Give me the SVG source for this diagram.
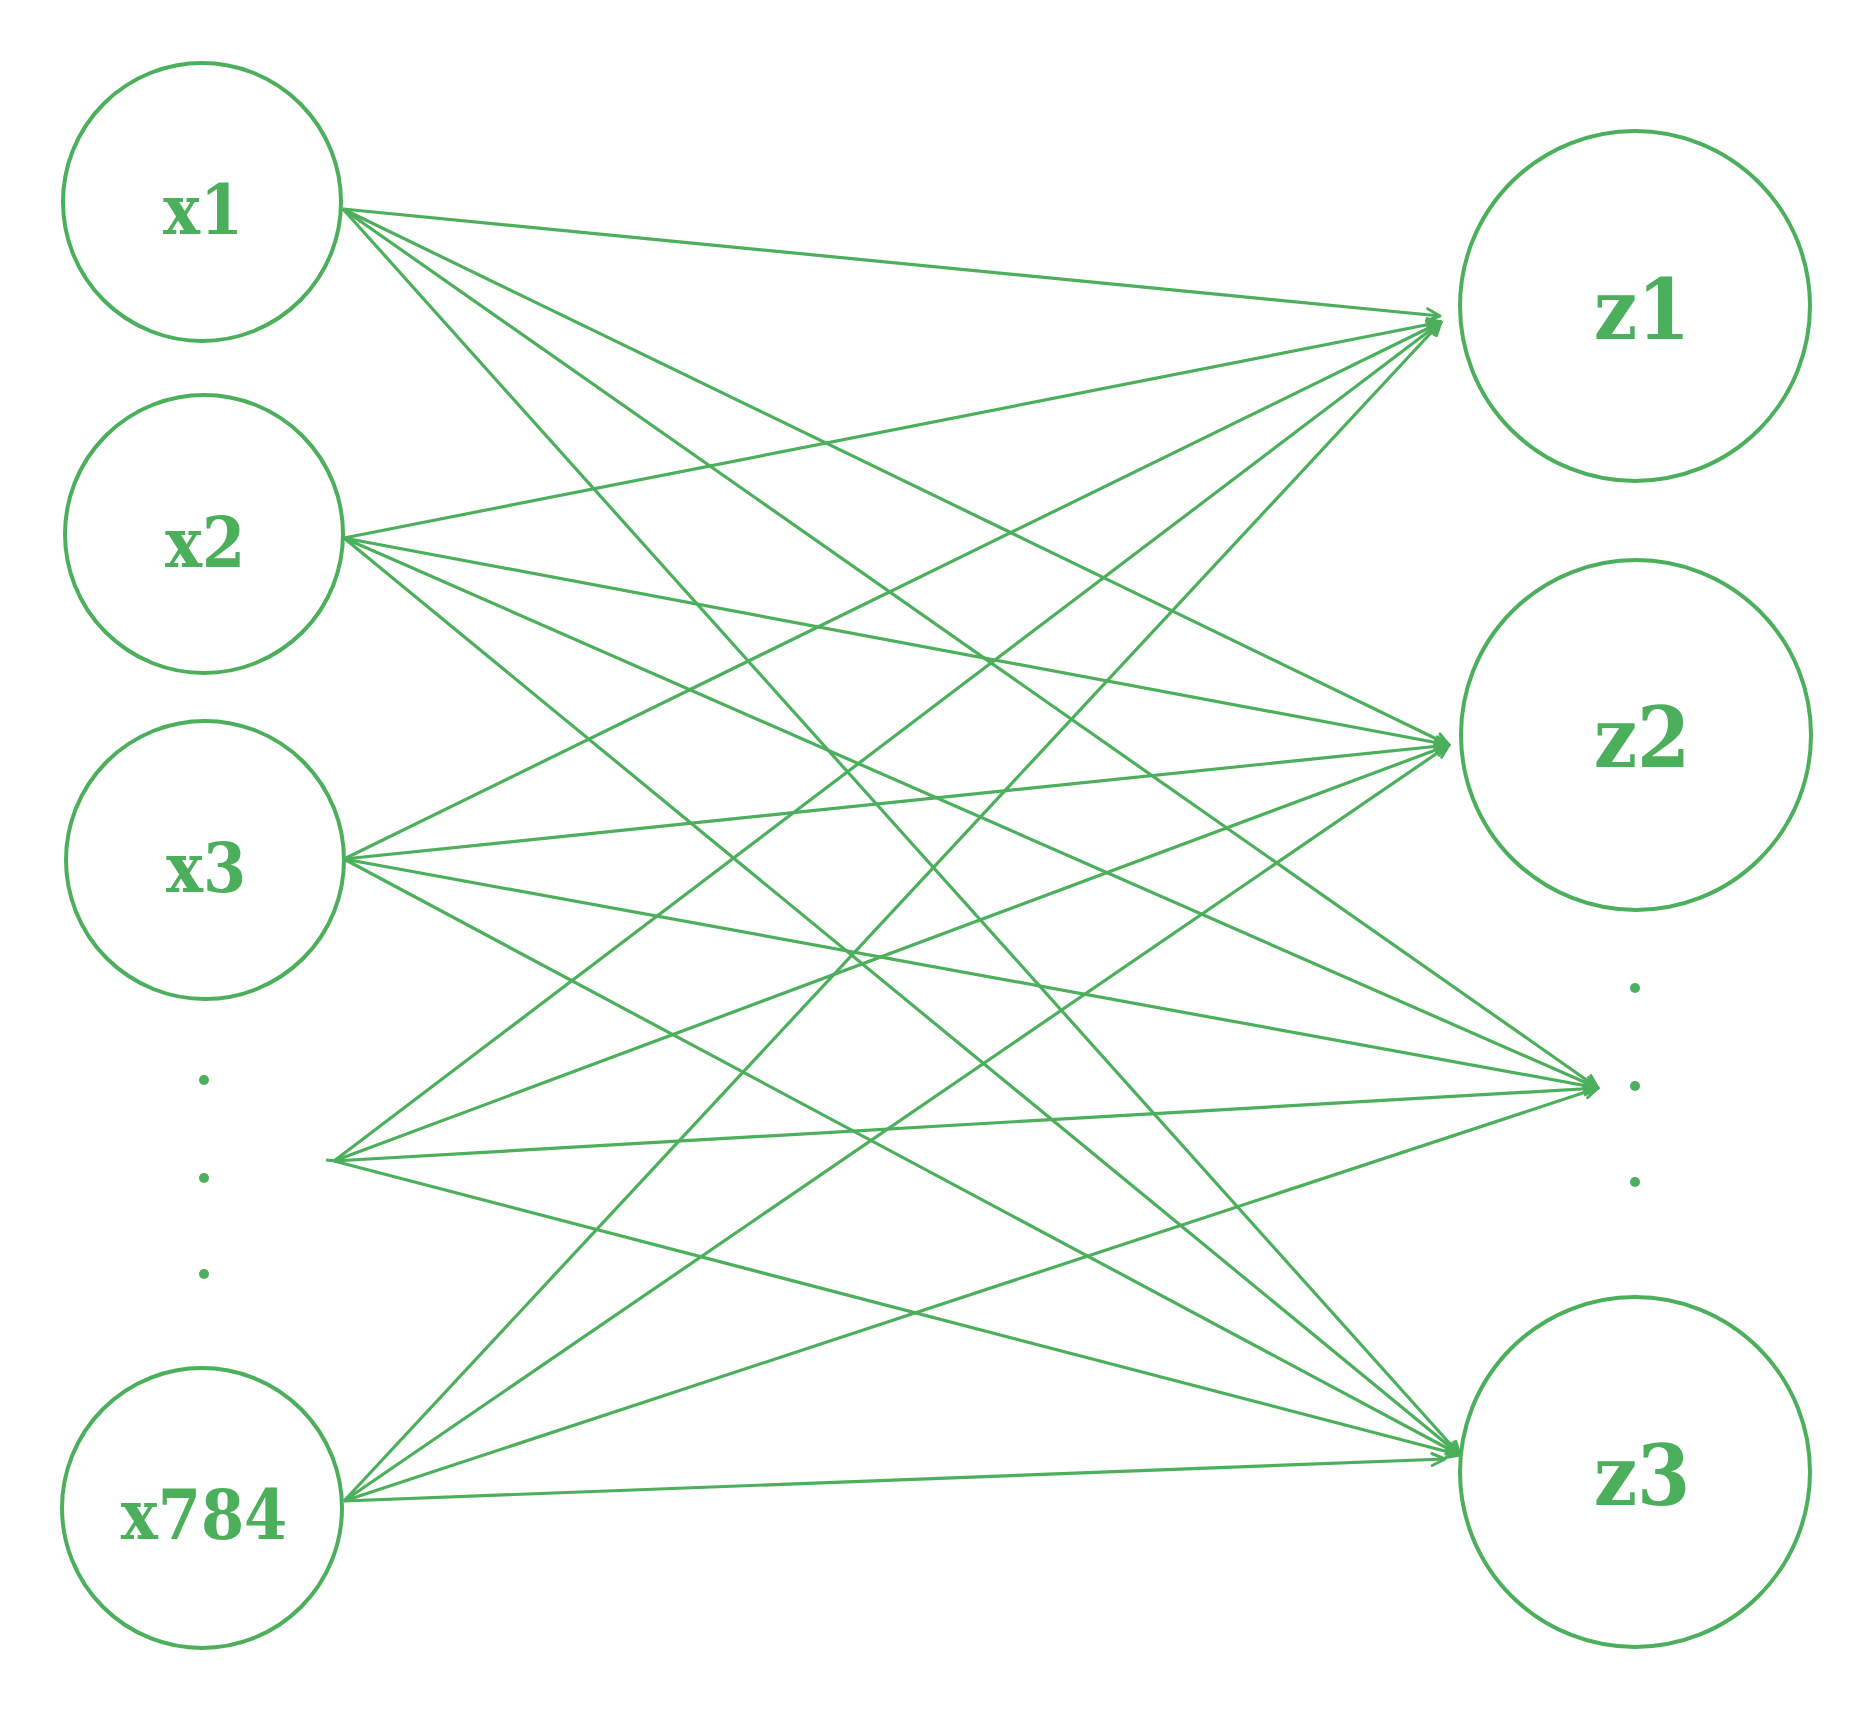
<svg xmlns="http://www.w3.org/2000/svg" width="1874" height="1711" viewBox="0 0 1874 1711">
<style>
.node{fill:#ffffff;stroke:#4caf5c;stroke-width:4}
.lbl{fill:#4caf5c;font-family:"DejaVu Serif Condensed","DejaVu Serif",serif;font-stretch:condensed;font-weight:bold;text-anchor:middle}
.xl{font-size:69px}
.zl{font-size:85px}
.dot{fill:#4caf5c}
.edge{stroke:#4caf5c;stroke-width:3.2;fill:none;marker-end:url(#ah)}
</style>
<defs>
<marker id="ah" viewBox="-16 -9 18 18" refX="0" refY="0" markerWidth="18" markerHeight="18" markerUnits="userSpaceOnUse" orient="auto">
<path d="M-13,-6 L0,0 L-13,6" fill="none" stroke="#4caf5c" stroke-width="3" stroke-linecap="round" stroke-linejoin="round"/>
</marker>
</defs>
<rect width="1874" height="1711" fill="#ffffff"/>
<g id="connectors">
<line class="edge" x1="343" y1="209" x2="1440" y2="316"/>
<line class="edge" x1="343" y1="209" x2="1449" y2="745"/>
<line class="edge" x1="343" y1="209" x2="1598" y2="1088"/>
<line class="edge" x1="343" y1="209" x2="1460" y2="1455"/>
<line class="edge" x1="344" y1="538" x2="1441" y2="322"/>
<line class="edge" x1="344" y1="538" x2="1449" y2="745"/>
<line class="edge" x1="344" y1="538" x2="1598" y2="1088"/>
<line class="edge" x1="344" y1="538" x2="1460" y2="1455"/>
<line class="edge" x1="344" y1="859" x2="1441" y2="322"/>
<line class="edge" x1="344" y1="859" x2="1449" y2="745"/>
<line class="edge" x1="344" y1="859" x2="1598" y2="1088"/>
<line class="edge" x1="344" y1="859" x2="1460" y2="1455"/>
<line class="edge" x1="334" y1="1161" x2="1441" y2="322"/>
<line class="edge" x1="334" y1="1161" x2="1449" y2="745"/>
<line class="edge" x1="334" y1="1161" x2="1598" y2="1088"/>
<line class="edge" x1="334" y1="1161" x2="1460" y2="1455"/>
<line x1="326" y1="1160" x2="337" y2="1161" stroke="#4caf5c" stroke-width="3"/>
<line class="edge" x1="344" y1="1501" x2="1441" y2="322"/>
<line class="edge" x1="344" y1="1501" x2="1449" y2="745"/>
<line class="edge" x1="344" y1="1501" x2="1598" y2="1088"/>
<line class="edge" x1="344" y1="1501" x2="1445" y2="1459"/>
</g>
<g id="x1"><circle class="node" cx="202" cy="202" r="139"/><text class="lbl xl" x="203" y="234">x1</text></g>
<g id="x2"><circle class="node" cx="204" cy="534" r="139"/><text class="lbl xl" x="205" y="567">x2</text></g>
<g id="x3"><circle class="node" cx="205" cy="860" r="139"/><text class="lbl xl" x="206" y="892">x3</text></g>
<g id="x-dots"><circle class="dot" cx="204" cy="1080" r="5"/><circle class="dot" cx="204" cy="1178" r="5"/><circle class="dot" cx="204" cy="1274" r="5"/></g>
<g id="x784"><circle class="node" cx="202" cy="1508" r="140"/><text class="lbl xl" x="204" y="1539">x784</text></g>
<g id="z1"><circle class="node" cx="1635" cy="306" r="175"/><text class="lbl zl" x="1642" y="339">z1</text></g>
<g id="z2"><circle class="node" cx="1636" cy="735" r="175"/><text class="lbl zl" x="1642" y="767">z2</text></g>
<g id="z-dots"><circle class="dot" cx="1635" cy="988" r="5"/><circle class="dot" cx="1635" cy="1086" r="5"/><circle class="dot" cx="1635" cy="1182" r="5"/></g>
<g id="z3"><circle class="node" cx="1635" cy="1472" r="175"/><text class="lbl zl" x="1642" y="1505">z3</text></g>
</svg>
